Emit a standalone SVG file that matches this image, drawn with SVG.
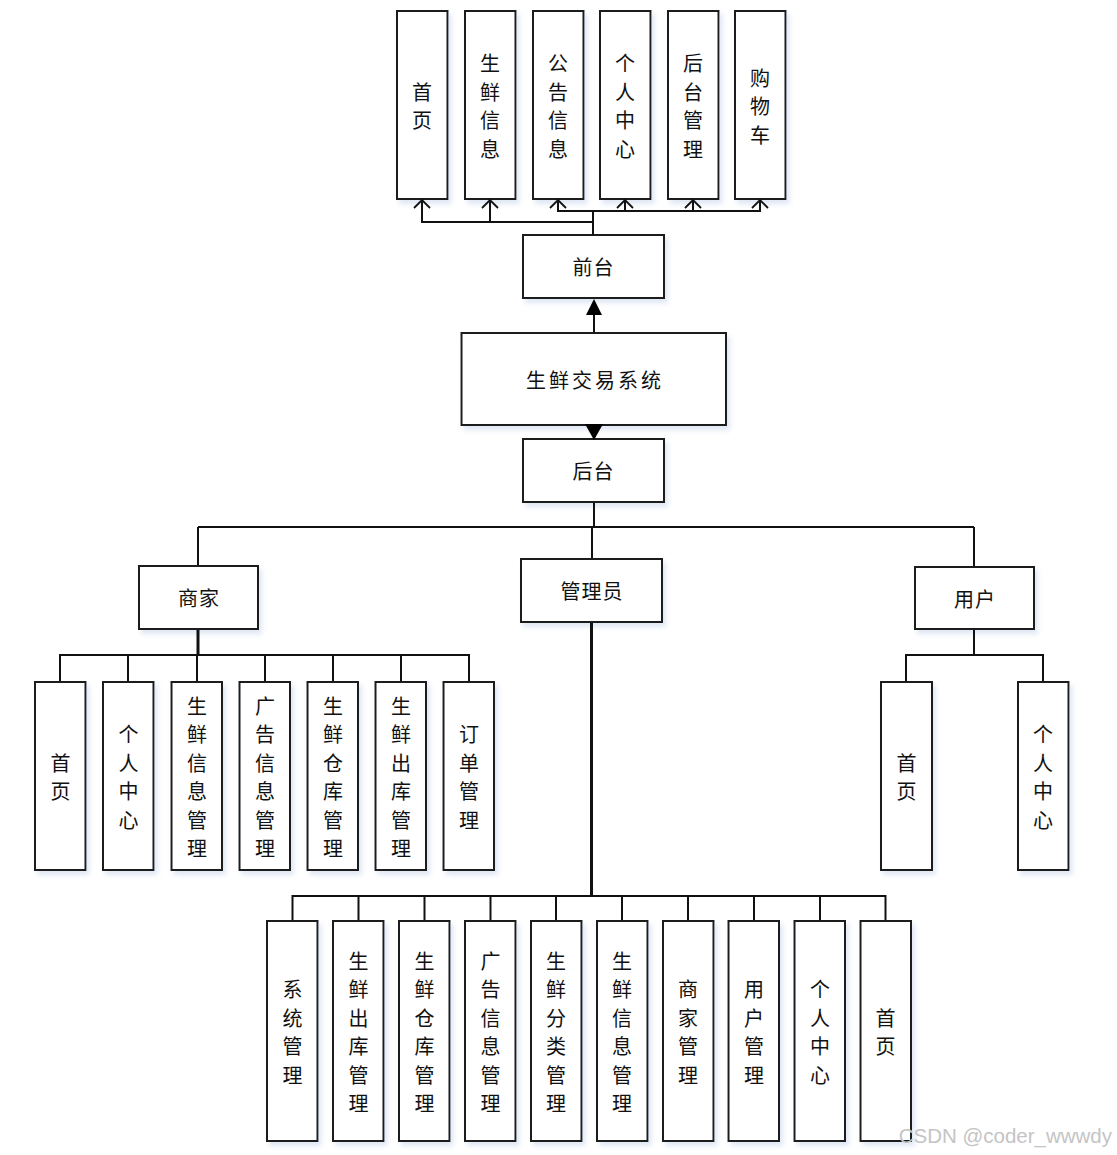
<svg xmlns="http://www.w3.org/2000/svg" width="1117" height="1155" viewBox="0 0 1117 1155">
<defs>
<filter id="sh" x="-20%" y="-20%" width="150%" height="150%">
<feDropShadow dx="3" dy="4" stdDeviation="2.5" flood-color="#b9cbe8" flood-opacity="0.45"/>
</filter>
</defs>
<style>
.box{fill:#fff;stroke:#1a1a1a;stroke-width:2;filter:url(#sh)}
.t{font-family:"Noto Sans CJK SC","Noto Sans CJK JP",sans-serif;font-size:20px;fill:#111;text-anchor:middle;dominant-baseline:central}
.ln{fill:none;stroke:#111;stroke-width:2}
.thick{fill:none;stroke:#111;stroke-width:3}
.oa{fill:none;stroke:#111;stroke-width:1.8}
.fa{fill:#000}
</style>
<rect width="1117" height="1155" fill="#fff"/>

<!-- top row -->
<g id="f-home"><rect class="box" x="397" y="11" width="50.5" height="188"/><text class="t"><tspan x="422" y="90.75">首</tspan><tspan x="422" y="119.25">页</tspan></text></g>
<g id="f-fresh"><rect class="box" x="465" y="11" width="50.5" height="188"/><text class="t"><tspan x="490" y="62.25">生</tspan><tspan x="490" y="90.75">鲜</tspan><tspan x="490" y="119.25">信</tspan><tspan x="490" y="147.75">息</tspan></text></g>
<g id="f-notice"><rect class="box" x="533" y="11" width="50.5" height="188"/><text class="t"><tspan x="558" y="62.25">公</tspan><tspan x="558" y="90.75">告</tspan><tspan x="558" y="119.25">信</tspan><tspan x="558" y="147.75">息</tspan></text></g>
<g id="f-personal"><rect class="box" x="600" y="11" width="50.5" height="188"/><text class="t"><tspan x="625" y="62.25">个</tspan><tspan x="625" y="90.75">人</tspan><tspan x="625" y="119.25">中</tspan><tspan x="625" y="147.75">心</tspan></text></g>
<g id="f-admin"><rect class="box" x="668" y="11" width="50.5" height="188"/><text class="t"><tspan x="693" y="62.25">后</tspan><tspan x="693" y="90.75">台</tspan><tspan x="693" y="119.25">管</tspan><tspan x="693" y="147.75">理</tspan></text></g>
<g id="f-cart"><rect class="box" x="735" y="11" width="50.5" height="188"/><text class="t"><tspan x="760" y="76.5">购</tspan><tspan x="760" y="105">物</tspan><tspan x="760" y="133.5">车</tspan></text></g>

<g id="frontend"><rect class="box" x="523" y="235" width="141" height="63"/><text class="t" x="593.5" y="266" letter-spacing="1">前台</text></g>
<g id="system"><rect class="box" x="461.5" y="333" width="264.5" height="92"/><text class="t" x="595" y="379" font-size="21.5" letter-spacing="3">生鲜交易系统</text></g>
<g id="backend"><rect class="box" x="523" y="439" width="141" height="63"/><text class="t" x="593.5" y="470.5" letter-spacing="1">后台</text></g>

<g id="merchant"><rect class="box" x="139" y="566" width="119" height="63"/><text class="t" x="199" y="597.5" letter-spacing="1">商家</text></g>
<g id="manager"><rect class="box" x="521" y="559" width="141" height="63"/><text class="t" x="592" y="590.5" letter-spacing="1">管理员</text></g>
<g id="user"><rect class="box" x="915" y="567" width="119" height="62"/><text class="t" x="975" y="598" letter-spacing="1">用户</text></g>

<!-- merchant children -->
<g id="m-home"><rect class="box" x="35" y="682" width="50.5" height="188"/><text class="t"><tspan x="60.5" y="761.75">首</tspan><tspan x="60.5" y="790.25">页</tspan></text></g>
<g id="m-personal"><rect class="box" x="103" y="682" width="50.5" height="188"/><text class="t"><tspan x="128.5" y="733.25">个</tspan><tspan x="128.5" y="761.75">人</tspan><tspan x="128.5" y="790.25">中</tspan><tspan x="128.5" y="818.75">心</tspan></text></g>
<g id="m-fresh"><rect class="box" x="171.5" y="682" width="50.5" height="188"/><text class="t"><tspan x="197" y="704.75">生</tspan><tspan x="197" y="733.25">鲜</tspan><tspan x="197" y="761.75">信</tspan><tspan x="197" y="790.25">息</tspan><tspan x="197" y="818.75">管</tspan><tspan x="197" y="847.25">理</tspan></text></g>
<g id="m-ad"><rect class="box" x="239.5" y="682" width="50.5" height="188"/><text class="t"><tspan x="265" y="704.75">广</tspan><tspan x="265" y="733.25">告</tspan><tspan x="265" y="761.75">信</tspan><tspan x="265" y="790.25">息</tspan><tspan x="265" y="818.75">管</tspan><tspan x="265" y="847.25">理</tspan></text></g>
<g id="m-store"><rect class="box" x="307.5" y="682" width="50.5" height="188"/><text class="t"><tspan x="333" y="704.75">生</tspan><tspan x="333" y="733.25">鲜</tspan><tspan x="333" y="761.75">仓</tspan><tspan x="333" y="790.25">库</tspan><tspan x="333" y="818.75">管</tspan><tspan x="333" y="847.25">理</tspan></text></g>
<g id="m-out"><rect class="box" x="375.5" y="682" width="50.5" height="188"/><text class="t"><tspan x="401" y="704.75">生</tspan><tspan x="401" y="733.25">鲜</tspan><tspan x="401" y="761.75">出</tspan><tspan x="401" y="790.25">库</tspan><tspan x="401" y="818.75">管</tspan><tspan x="401" y="847.25">理</tspan></text></g>
<g id="m-order"><rect class="box" x="443.5" y="682" width="50.5" height="188"/><text class="t"><tspan x="469" y="733.25">订</tspan><tspan x="469" y="761.75">单</tspan><tspan x="469" y="790.25">管</tspan><tspan x="469" y="818.75">理</tspan></text></g>

<!-- user children -->
<g id="u-home"><rect class="box" x="881" y="682" width="51" height="188"/><text class="t"><tspan x="906.5" y="761.75">首</tspan><tspan x="906.5" y="790.25">页</tspan></text></g>
<g id="u-personal"><rect class="box" x="1018" y="682" width="50.5" height="188"/><text class="t"><tspan x="1043" y="733.25">个</tspan><tspan x="1043" y="761.75">人</tspan><tspan x="1043" y="790.25">中</tspan><tspan x="1043" y="818.75">心</tspan></text></g>

<!-- manager children -->
<g id="a-system"><rect class="box" x="267" y="921" width="50.5" height="220"/><text class="t"><tspan x="292.5" y="988.25">系</tspan><tspan x="292.5" y="1016.75">统</tspan><tspan x="292.5" y="1045.25">管</tspan><tspan x="292.5" y="1073.75">理</tspan></text></g>
<g id="a-out"><rect class="box" x="333" y="921" width="50.5" height="220"/><text class="t"><tspan x="358.5" y="959.75">生</tspan><tspan x="358.5" y="988.25">鲜</tspan><tspan x="358.5" y="1016.75">出</tspan><tspan x="358.5" y="1045.25">库</tspan><tspan x="358.5" y="1073.75">管</tspan><tspan x="358.5" y="1102.25">理</tspan></text></g>
<g id="a-store"><rect class="box" x="399" y="921" width="50.5" height="220"/><text class="t"><tspan x="424.5" y="959.75">生</tspan><tspan x="424.5" y="988.25">鲜</tspan><tspan x="424.5" y="1016.75">仓</tspan><tspan x="424.5" y="1045.25">库</tspan><tspan x="424.5" y="1073.75">管</tspan><tspan x="424.5" y="1102.25">理</tspan></text></g>
<g id="a-ad"><rect class="box" x="465" y="921" width="50.5" height="220"/><text class="t"><tspan x="490.5" y="959.75">广</tspan><tspan x="490.5" y="988.25">告</tspan><tspan x="490.5" y="1016.75">信</tspan><tspan x="490.5" y="1045.25">息</tspan><tspan x="490.5" y="1073.75">管</tspan><tspan x="490.5" y="1102.25">理</tspan></text></g>
<g id="a-category"><rect class="box" x="531" y="921" width="50.5" height="220"/><text class="t"><tspan x="556" y="959.75">生</tspan><tspan x="556" y="988.25">鲜</tspan><tspan x="556" y="1016.75">分</tspan><tspan x="556" y="1045.25">类</tspan><tspan x="556" y="1073.75">管</tspan><tspan x="556" y="1102.25">理</tspan></text></g>
<g id="a-fresh"><rect class="box" x="597" y="921" width="50.5" height="220"/><text class="t"><tspan x="622" y="959.75">生</tspan><tspan x="622" y="988.25">鲜</tspan><tspan x="622" y="1016.75">信</tspan><tspan x="622" y="1045.25">息</tspan><tspan x="622" y="1073.75">管</tspan><tspan x="622" y="1102.25">理</tspan></text></g>
<g id="a-merchant"><rect class="box" x="663" y="921" width="50.5" height="220"/><text class="t"><tspan x="688" y="988.25">商</tspan><tspan x="688" y="1016.75">家</tspan><tspan x="688" y="1045.25">管</tspan><tspan x="688" y="1073.75">理</tspan></text></g>
<g id="a-user"><rect class="box" x="728.5" y="921" width="50.5" height="220"/><text class="t"><tspan x="754" y="988.25">用</tspan><tspan x="754" y="1016.75">户</tspan><tspan x="754" y="1045.25">管</tspan><tspan x="754" y="1073.75">理</tspan></text></g>
<g id="a-personal"><rect class="box" x="794.5" y="921" width="50.5" height="220"/><text class="t"><tspan x="820" y="988.25">个</tspan><tspan x="820" y="1016.75">人</tspan><tspan x="820" y="1045.25">中</tspan><tspan x="820" y="1073.75">心</tspan></text></g>
<g id="a-home"><rect class="box" x="860.5" y="921" width="50.5" height="220"/><text class="t"><tspan x="885.5" y="1016.75">首</tspan><tspan x="885.5" y="1045.25">页</tspan></text></g>

<g id="connectors">
<path class="ln" d="M593,235 V211 M422,200 V222 H593 M490,200 V222 M558,200 V211 H760 V200 M625,200 V211 M693,200 V211"/>
<path class="oa" d="M414,208 L422,200 L430,208 M482,208 L490,200 L498,208 M550,208 L558,200 L566,208 M617,208 L625,200 L633,208 M685,208 L693,200 L701,208 M752,208 L760,200 L768,208"/>
<path class="ln" d="M594,332 V312"/>
<polygon class="fa" points="594,299 586,315 602,315"/>
<polygon class="fa" points="594,440 585,424 603,424"/>
<path class="ln" d="M594,503 V527 M198,527 H974 M198,527 V565 M592,527 V558 M974,527 V566"/>
<path class="thick" d="M198,630 V655"/>
<path class="ln" d="M60,681 V655 H469 V681 M128,655 V681 M197,655 V681 M265,655 V681 M333,655 V681 M401,655 V681"/>
<path class="ln" d="M974,630 V655 M906,681 V655 H1043 V681"/>
<path class="thick" d="M591.5,623 V896"/>
<path class="ln" d="M292.5,920 V896 H885.5 V920 M358.5,896 V920 M424.5,896 V920 M490.5,896 V920 M556,896 V920 M622,896 V920 M688,896 V920 M754,896 V920 M820,896 V920"/>
</g>

<text x="1112" y="1143" font-family="Liberation Sans, Arial, sans-serif" font-size="20.5" fill="#c4c4c4" text-anchor="end">CSDN @coder_wwwdy</text>
</svg>
